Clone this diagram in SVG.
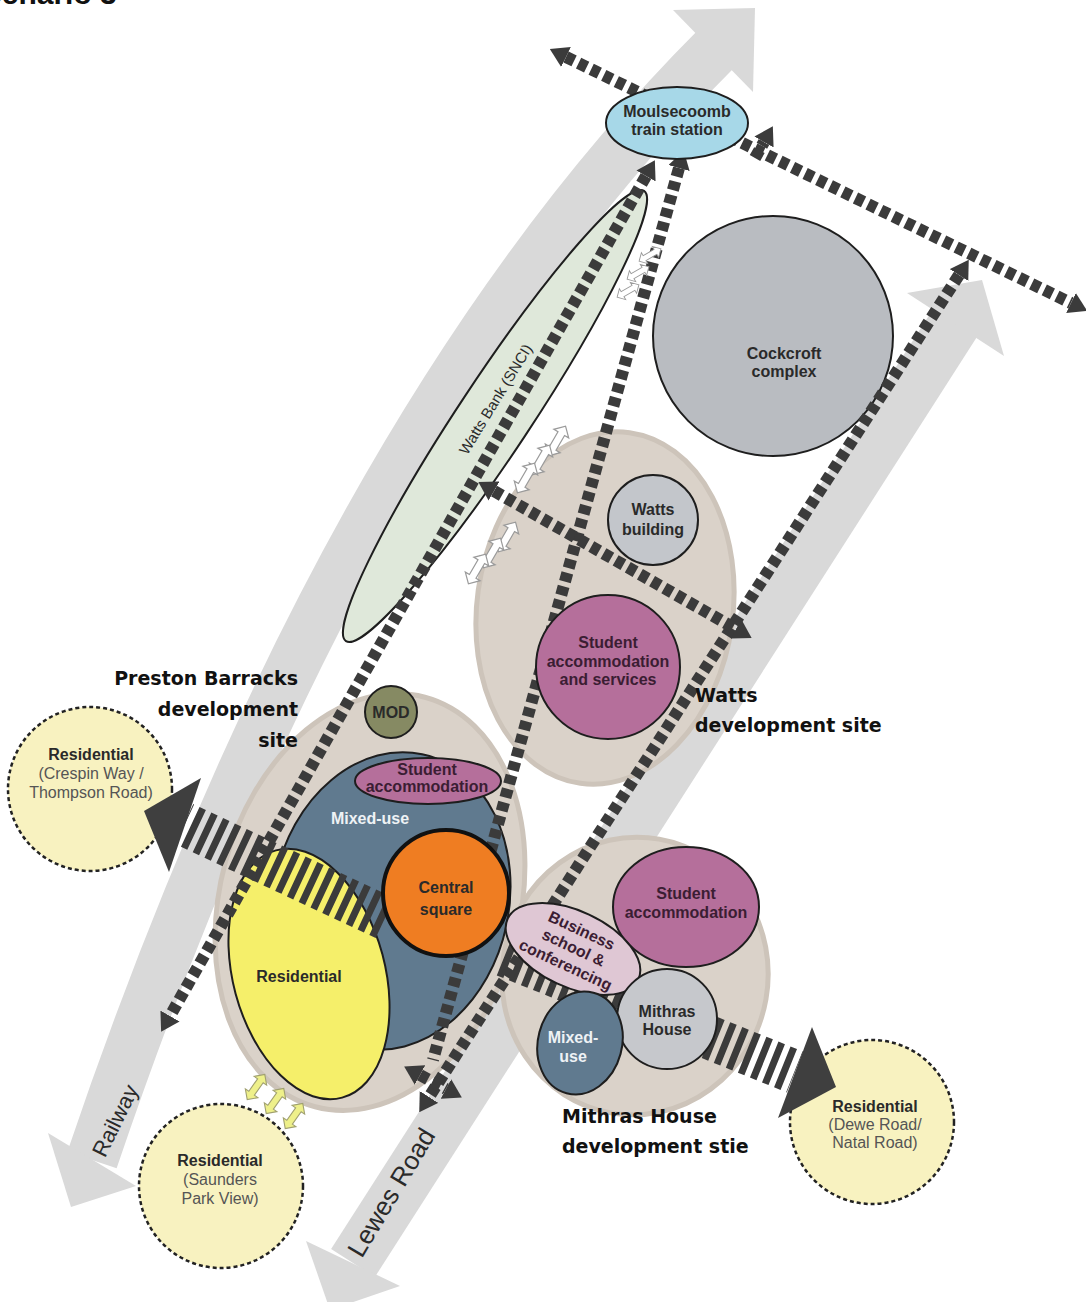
<svg xmlns="http://www.w3.org/2000/svg" width="1086" height="1302" viewBox="0 0 1086 1302">
<style>
.band{fill:none;stroke:#d9d9d9;stroke-width:52}
.bandhead{fill:#d9d9d9}
.dash{fill:none;stroke:#3b3b3b;stroke-width:12;stroke-dasharray:9 5}
.stripe{fill:none;stroke:#3b3b3b;stroke-width:44;stroke-dasharray:7 6}
.bighead{fill:#3f3f3f}
.lbl{font-family:"Liberation Sans",Arial,sans-serif;font-weight:bold;font-size:16px;text-anchor:middle;fill:#2a2a2a}
.sub{font-weight:normal;fill:#555}
.site{font-family:"DejaVu Sans",sans-serif;font-weight:bold;font-size:19px;fill:#111}
.road{font-family:"Liberation Sans",Arial,sans-serif;fill:#2a2a2a;text-anchor:middle}
.res{fill:#f8f2c0;stroke:#222;stroke-width:2.5;stroke-dasharray:4 3}
.beige{fill:#dad2c9;stroke:#cdc4ba;stroke-width:5}
.edge{stroke:#1e1e1e;stroke-width:2}
.pink{fill:#b56f9b}
.grey{fill:#c3c6cb}
.blue{fill:#607a8f}
.plbl{fill:#3b1d33}
.wl{fill:#eef2f5}
.sarrow{fill:#fff;stroke:#9a9a9a;stroke-width:1.3}
.yarrow{fill:#eef08a;stroke:#a0a070;stroke-width:1.3}
</style>
<defs>
<marker id="ah" viewBox="0 0 18 22" refX="0" refY="11" markerWidth="18" markerHeight="22" markerUnits="userSpaceOnUse" orient="auto-start-reverse">
<path d="M0,0 L18,11 L0,22 Z" fill="#3b3b3b"/>
</marker>
<path id="dbl" d="M-18,0 L-9,-9 L-9,-4 L9,-4 L9,-9 L18,0 L9,9 L9,4 L-9,4 L-9,9 Z"/>
</defs>
<rect width="1086" height="1302" fill="#fff"/>
<text x="-35" y="4" font-family="Liberation Sans, Arial, sans-serif" font-weight="bold" font-size="30" fill="#111">Scenario 3</text>

<g id="roads">
<path class="band" d="M92,1160 Q341,424 717,48"/>
<polygon class="bandhead" points="673,10 755,8 753,92"/>
<polygon class="bandhead" points="48,1133 71,1207 136,1186"/>
<path class="band" d="M353,1263 L955,323"/>
<polygon class="bandhead" points="907,293 982,280 1004,356"/>
<polygon class="bandhead" points="306,1241 330,1310 400,1286"/>
<text class="road" font-size="22" transform="translate(122,1124) rotate(-64)">Railway</text>
<text class="road" font-size="26" transform="translate(399,1197) rotate(-59)">Lewes Road</text>
</g>

<g id="preston-site"><ellipse class="beige" cx="370" cy="902" rx="150" ry="212" transform="rotate(15 370 902)"/></g>
<g id="watts-site"><ellipse class="beige" cx="605" cy="608" rx="128" ry="177" transform="rotate(8 605 608)"/></g>
<g id="mithras-site"><ellipse class="beige" cx="635" cy="976" rx="133" ry="139" transform="rotate(10 635 976)"/></g>

<g id="watts-bank">
<ellipse cx="495" cy="416" rx="270" ry="36" fill="#dfe8da" class="edge" transform="rotate(-56.5 495 416)"/>
</g>

<g id="cockcroft">
<circle cx="773" cy="336" r="120" fill="#b9bcc1" class="edge"/>
<text class="lbl" x="784" y="359">Cockcroft</text>
<text class="lbl" x="784" y="377">complex</text>
</g>

<g id="res-crespin">
<circle class="res" cx="90" cy="789" r="82"/>
<text class="lbl" x="91" y="760">Residential</text>
<text class="lbl sub" x="91" y="779">(Crespin Way /</text>
<text class="lbl sub" x="91" y="798">Thompson Road)</text>
</g>
<g id="res-saunders">
<circle class="res" cx="221" cy="1186" r="82"/>
<text class="lbl" x="220" y="1166">Residential</text>
<text class="lbl sub" x="220" y="1185">(Saunders</text>
<text class="lbl sub" x="220" y="1204">Park View)</text>
</g>
<g id="res-dewe">
<circle class="res" cx="872" cy="1122" r="82"/>
<text class="lbl" x="875" y="1112">Residential</text>
<text class="lbl sub" x="875" y="1130">(Dewe Road/</text>
<text class="lbl sub" x="875" y="1148">Natal Road)</text>
</g>

<g id="mixed-use-preston">
<ellipse cx="391" cy="901" rx="118" ry="150" class="blue edge" transform="rotate(12 391 901)"/>
<text class="lbl wl" x="370" y="824">Mixed-use</text>
</g>
<g id="residential-preston">
<ellipse cx="309" cy="974" rx="76" ry="128" fill="#f5ef6a" class="edge" transform="rotate(-15 309 974)"/>
<text class="lbl" x="299" y="982">Residential</text>
</g>

<g id="links">
<path class="stripe" d="M385,918 L184,824"/>
<polygon class="bighead" points="201,778 144,811 169,872"/>
<path class="stripe" d="M505,955 L795,1072"/>
<polygon class="bighead" points="812,1027 836,1087 778,1118"/>
<path class="dash" d="M566,57 L1071,303" marker-start="url(#ah)" marker-end="url(#ah)"/>
<path class="dash" d="M755,158 L764,142" marker-end="url(#ah)"/>
<path class="dash" d="M646,176 L170,1016" marker-start="url(#ah)" marker-end="url(#ah)"/>
<path class="dash" d="M679,168 L433,1060" marker-start="url(#ah)"/>
<path class="dash" d="M959,275 L429,1097" marker-start="url(#ah)" marker-end="url(#ah)"/>
<path class="dash" d="M494,491 L736,629" marker-start="url(#ah)" marker-end="url(#ah)"/>
<path class="dash" d="M420,1075 L446,1089" marker-start="url(#ah)" marker-end="url(#ah)"/>
<use href="#dbl" class="sarrow" transform="translate(650,255) rotate(-30) scale(0.7)"/>
<use href="#dbl" class="sarrow" transform="translate(638,273) rotate(-30) scale(0.7)"/>
<use href="#dbl" class="sarrow" transform="translate(628,291) rotate(-30) scale(0.7)"/>
<use href="#dbl" class="sarrow" transform="translate(557,441) rotate(-60) scale(0.95)"/>
<use href="#dbl" class="sarrow" transform="translate(541,460) rotate(-60) scale(0.95)"/>
<use href="#dbl" class="sarrow" transform="translate(526,478) rotate(-60) scale(0.95)"/>
<use href="#dbl" class="sarrow" transform="translate(507,537) rotate(-60) scale(0.95)"/>
<use href="#dbl" class="sarrow" transform="translate(492,553) rotate(-60) scale(0.95)"/>
<use href="#dbl" class="sarrow" transform="translate(477,569) rotate(-60) scale(0.95)"/>
<use href="#dbl" class="yarrow" transform="translate(256,1087) rotate(-55) scale(0.85)"/>
<use href="#dbl" class="yarrow" transform="translate(275,1101) rotate(-55) scale(0.85)"/>
<use href="#dbl" class="yarrow" transform="translate(294,1116) rotate(-55) scale(0.85)"/>
</g>

<text font-family="Liberation Sans, Arial, sans-serif" font-size="15" fill="#2a2a2a" text-anchor="middle" transform="translate(500,402) rotate(-58.6)">Watts Bank (SNCI)</text>

<g id="station">
<ellipse cx="677" cy="123" rx="71" ry="36" fill="#a7d8e8" class="edge"/>
<text class="lbl" x="677" y="117" fill="#1f3a4a" font-size="15">Moulsecoomb</text>
<text class="lbl" x="677" y="135" fill="#1f3a4a" font-size="15">train station</text>
</g>

<g id="watts-building">
<circle cx="653" cy="520" r="45" class="grey edge"/>
<text class="lbl" x="653" y="515">Watts</text>
<text class="lbl" x="653" y="535">building</text>
</g>
<g id="student-services">
<circle cx="608" cy="667" r="72" class="pink edge"/>
<text class="lbl plbl" x="608" y="648">Student</text>
<text class="lbl plbl" x="608" y="667">accommodation</text>
<text class="lbl plbl" x="608" y="685">and services</text>
</g>

<g id="mod">
<circle cx="391" cy="712" r="26" fill="#868a63" class="edge"/>
<text class="lbl" x="391" y="718" fill="#eceae0" font-size="15">MOD</text>
</g>
<g id="student-preston">
<ellipse cx="428" cy="781" rx="73" ry="23" class="pink edge"/>
<text class="lbl plbl" x="427" y="775">Student</text>
<text class="lbl plbl" x="427" y="792">accommodation</text>
</g>
<g id="central-square">
<circle cx="446" cy="893" r="63" fill="#ef7d22" stroke="#111" stroke-width="4"/>
<text class="lbl" x="446" y="893" font-size="19" fill="#fdf1e6">Central</text>
<text class="lbl" x="446" y="915" font-size="19" fill="#fdf1e6">square</text>
</g>

<g id="student-mithras">
<ellipse cx="686" cy="907" rx="73" ry="60" class="pink edge"/>
<text class="lbl plbl" x="686" y="899">Student</text>
<text class="lbl plbl" x="686" y="918">accommodation</text>
</g>
<g id="business-school" transform="translate(573,949) rotate(25)">
<ellipse cx="0" cy="0" rx="72" ry="38" fill="#dfc7d4" class="edge"/>
<text class="lbl plbl" x="0" y="-15">Business</text>
<text class="lbl plbl" x="0" y="4">school &amp;</text>
<text class="lbl plbl" x="0" y="23">conferencing</text>
</g>
<g id="mithras-house">
<circle cx="667" cy="1019" r="50" fill="#c6c8cc" class="edge"/>
<text class="lbl" x="667" y="1017">Mithras</text>
<text class="lbl" x="667" y="1035">House</text>
</g>
<g id="mixed-use-mithras">
<ellipse cx="580" cy="1043" rx="42" ry="52" class="blue edge" transform="rotate(15 580 1043)"/>
<text class="lbl wl" x="573" y="1043">Mixed-</text>
<text class="lbl wl" x="573" y="1062">use</text>
</g>

<g id="site-labels">
<text class="site" x="298" y="685" text-anchor="end">Preston Barracks</text>
<text class="site" x="298" y="716" text-anchor="end">development</text>
<text class="site" x="298" y="747" text-anchor="end">site</text>
<text class="site" x="695" y="702">Watts</text>
<text class="site" x="695" y="732">development site</text>
<text class="site" x="562" y="1123">Mithras House</text>
<text class="site" x="562" y="1153">development stie</text>
</g>
</svg>
